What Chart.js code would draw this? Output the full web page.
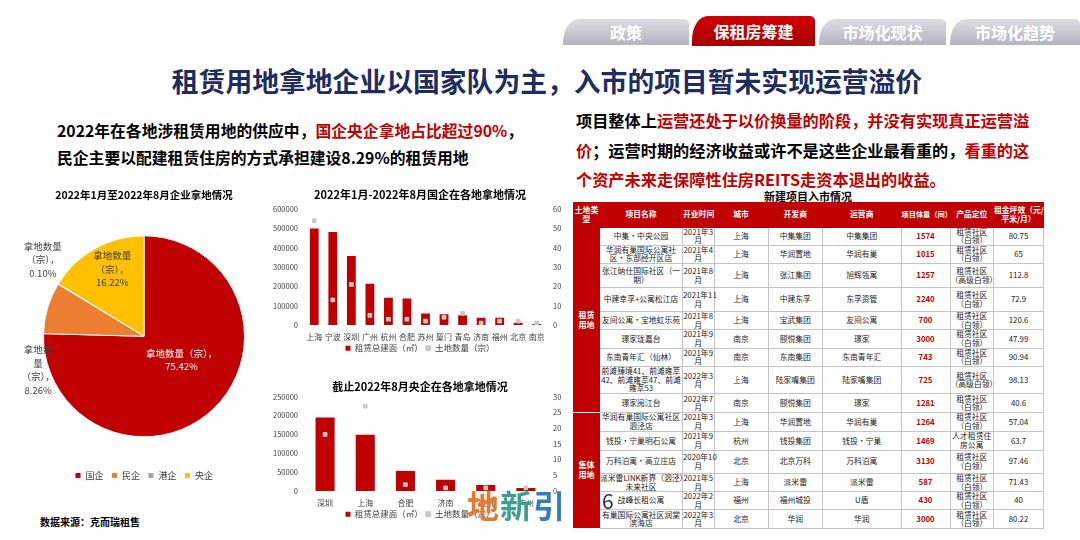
<!DOCTYPE html>
<html>
<head>
<meta charset="utf-8">
<script src="https://cdn.jsdelivr.net/npm/chart.js@4.4.0/dist/chart.umd.min.js"></script>
<style>
  body { margin: 0; width: 1080px; height: 540px; overflow: hidden; background: #fff; position: relative;
         font-family: "Noto Sans CJK SC", "Microsoft YaHei", sans-serif; }
  .abs { position: absolute; }
  .tab { position: absolute; top: 19px; height: 26px; color: #fff; font-weight: bold; font-size: 16px;
         line-height: 26px; text-align: center; border-radius: 16px 5px 0 0 / 24px 5px 0 0;
         background: linear-gradient(#dedfe4, #b3b4bc); }
  .tab.on { top: 16px; height: 30px; line-height: 30px; background: linear-gradient(#d10000, #a80000); }
  #title { left: 7px; width: 1080px; top: 61px; text-align: center; font-size: 26.8px; font-weight: bold; color: #1f2d5e; }
  .red { color: #c00000; }
  #leftText { left: 57px; top: 117px; font-size: 15.8px; font-weight: bold; line-height: 27px; color: #000; white-space: nowrap; }
  #rightText { left: 576px; top: 106px; width: 460px; font-size: 16.2px; font-weight: bold; line-height: 29.5px; color: #000; }
  #tblTitle { left: 573px; width: 470px; top: 188px; text-align: center; font-size: 11px; font-weight: bold; }
  table { position: absolute; left: 573px; top: 202px; width: 470px; border-collapse: collapse; table-layout: fixed;
          font-size: 7.8px; color: #222; }
  td, th { border: 1px solid #c4c4c4; text-align: center; padding: 0; line-height: 8.6px; white-space: pre; overflow: visible; }
  th { background: #c00000; color: #fff; font-weight: bold; font-size: 7.8px; border-color: #c00000; }
  td.land { background: #c00000; color: #fff; font-weight: bold; border-color: #c00000; border-bottom-color: #fff; font-size: 8px; line-height: 10px; }
  td.vol { color: #c00000; font-weight: bold; }
  .box { position: absolute; }
  #src { left: 40px; top: 514px; font-size: 10px; font-weight: bold; color: #000; }
  #logo { left: 467px; top: 481px; font-size: 32px; letter-spacing: 1px; font-weight: bold; }
  #page { left: 602px; top: 485px; font-size: 21px; color: #1f2d5e; }
</style>
</head>
<body>

<div class="tab" style="left:563px;width:126px">政策</div>
<div class="tab on" style="left:692px;width:123px">保租房筹建</div>
<div class="tab" style="left:819px;width:127px">市场化现状</div>
<div class="tab" style="left:950px;width:130px">市场化趋势</div>

<div id="title" class="abs">租赁用地拿地企业以国家队为主，入市的项目暂未实现运营溢价</div>

<div id="leftText" class="abs">2022年在各地涉租赁用地的供应中，<span class="red">国企央企拿地占比超过90%</span>，<br>民企主要以配建租赁住房的方式承担建设8.29%的租赁用地</div>

<div id="rightText" class="abs">项目整体上<span class="red">运营还处于以价换量的阶段，并没有实现真正运营溢价</span>；运营时期的经济收益或许不是这些企业最看重的，<span class="red">看重的这个资产未来走保障性住房REITS走资本退出的收益。</span></div>

<div class="box" style="left:0;top:185px;width:290px;height:305px"><canvas id="pie"></canvas></div>
<div class="box" style="left:270px;top:185px;width:300px;height:172px"><canvas id="soe"></canvas></div>
<div class="box" style="left:270px;top:375px;width:300px;height:148px"><canvas id="central"></canvas></div>

<div id="tblTitle" class="abs">新建项目入市情况</div>
<table id="tbl">
  <colgroup>
    <col style="width:26px"><col style="width:83px"><col style="width:31.5px"><col style="width:54px"><col style="width:54.5px">
    <col style="width:78.5px"><col style="width:49px"><col style="width:43.5px"><col style="width:50px">
  </colgroup>
  <thead></thead>
  <tbody></tbody>
</table>

<div id="src" class="abs">数据来源：克而瑞租售</div>
<div id="logo" class="abs"><span style="color:#e8782c">地</span><span style="color:#3c9f8f">新</span><span style="color:#2f7fbf">引</span></div>
<div id="page" class="abs">6</div>

<script>
// 饼图：企业拿地占比
const pieLabels = ['国企', '民企', '港企', '央企'];
const pieShares = [75.42, 8.26, 0.10, 16.22];
const pieColors = ['#c00000', '#ed7d31', '#a5a5a5', '#ffc000'];

// 国企在各地拿地
const soeCities = ['上海', '宁波', '深圳', '广州', '杭州', '合肥', '苏州', '厦门', '青岛', '济南', '福州', '北京', '南京'];
const soeArea = [500000, 482000, 357000, 214000, 141000, 137000, 59000, 56000, 50000, 37000, 37000, 12000, 5000];
const soeCount = [54, 13, 21, 5, 3, 3, 2, 4, 6, 1, 2, 2, 1];

// 央企在各地拿地
const cenCities = ['深圳', '上海', '合肥', '济南', '福州', '广州'];
const cenArea = [195000, 149000, 53000, 30000, 16000, 8000];
const cenCount = [18, 27, 2, 1, 1, 1];

// 坐标轴刻度：左轴最大值、步长，右轴最大值、步长
const soeTicks = [600000, 100000, 60, 10];
const cenTicks = [250000, 50000, 30, 5];

// 新建项目入市情况
const tableHead = ['土地类\n型', '项目名称', '开业时间', '城市', '开发商', '运营商', '项目体量（间）', '产品定位', '租金坪效（元/\n平米/月）'];
const landTypes = [['租赁\n用地', 9], ['集体\n用地', 6]];
const tableRows = [
  ['中集·中央公园', '2021年3\n月', '上海', '中集集团', '中集集团', '1574', '租赁社区\n（白领）', '80.75'],
  ['华润有巢国际公寓社\n区·东部经开区店', '2021年4\n月', '上海', '华润置地', '华润有巢', '1015', '租赁社区\n（白领）', '65'],
  ['张江纳仕国际社区（一\n期）', '2021年8\n月', '上海', '张江集团', '旭辉瓴寓', '1257', '租赁社区\n（高级白领）', '112.8'],
  ['中建幸孚+公寓松江店', '2021年11\n月', '上海', '中建东孚', '东孚资管', '2240', '租赁社区\n（白领）', '72.9'],
  ['友间公寓·宝地虹乐苑', '2021年8\n月', '上海', '宝武集团', '友间公寓', '700', '租赁社区\n（白领）', '120.6'],
  ['璟家珑嘉台', '2021年9\n月', '南京', '颐悦集团', '璟家', '3000', '租赁社区\n（白领）', '47.99'],
  ['东南青年汇（仙林）', '2021年9\n月', '南京', '东南集团', '东南青年汇', '743', '租赁社区\n（白领）', '90.94'],
  ['前滩臻境41、前滩雍萃\n42、前滩雍萃47、前滩\n雍萃53', '2022年3\n月', '上海', '陆家嘴集团', '陆家嘴集团', '725', '租赁社区\n（高级白领）', '98.13'],
  ['璟家阅江台', '2022年7\n月', '南京', '颐悦集团', '璟家', '1281', '租赁社区\n（白领）', '40.6'],
  ['华润有巢国际公寓社区\n泗泾店', '2021年3\n月', '上海', '华润置地', '华润有巢', '1264', '租赁社区\n（白领）', '57.04'],
  ['钱投·宁巢明石公寓', '2021年9\n月', '杭州', '钱投集团', '钱投·宁巢', '1469', '人才租赁住\n房公寓', '63.7'],
  ['万科泊寓·高立庄店', '2020年10\n月', '北京', '北京万科', '万科泊寓', '3130', '租赁社区\n（白领）', '97.46'],
  ['派米雷LINK新界（泗泾）\n未来社区', '2021年5\n月', '上海', '派米雷', '派米雷', '587', '租赁社区\n（白领）', '71.43'],
  ['战峰长租公寓', '2022年2\n月', '福州', '福州城投', 'U盾', '430', '租赁社区\n（白领）', '40'],
  ['有巢国际公寓社区润棠\n滨海店', '2022年3\n月', '北京', '华润', '华润', '3000', '租赁社区\n（白领）', '80.22']
];
const rowHeights = [17.6, 18.4, 24, 24, 17.6, 18.4, 18.3, 27.3, 18.7, 19.3, 18.4, 23.3, 18, 18.3, 18.4];

// 建表
const thead = document.querySelector('#tbl thead');
const headRow = document.createElement('tr');
headRow.style.height = '24.5px';
tableHead.forEach((h, i) => {
  const th = document.createElement('th');
  th.textContent = h;
  if (i === 6) th.style.fontSize = '7.2px';
  headRow.appendChild(th);
});
thead.appendChild(headRow);

const tbody = document.querySelector('#tbl tbody');
let groupStart = 0;
let groupIdx = 0;
tableRows.forEach((row, r) => {
  const tr = document.createElement('tr');
  tr.style.height = rowHeights[r] + 'px';
  if (groupIdx < landTypes.length && r === groupStart) {
    const td = document.createElement('td');
    td.className = 'land';
    td.rowSpan = landTypes[groupIdx][1];
    td.textContent = landTypes[groupIdx][0];
    tr.appendChild(td);
    groupStart += landTypes[groupIdx][1];
    groupIdx++;
  }
  row.forEach((v, c) => {
    const td = document.createElement('td');
    td.textContent = v;
    if (c === 5) td.className = 'vol';
    tr.appendChild(td);
  });
  tbody.appendChild(tr);
});

// 图表
Chart.defaults.font.family = '"Noto Sans CJK SC", "Microsoft YaHei", sans-serif';
Chart.defaults.color = '#404040';
Chart.defaults.animation = false;
Chart.defaults.plugins.tooltip.enabled = false;

const pieLabelPlugin = {
  id: 'pieLabels',
  afterDatasetsDraw(chart, args, opts) {
    const ctx = chart.ctx;
    const arcs = chart.getDatasetMeta(0).data;
    ctx.save();
    ctx.font = '9.5px "Noto Sans CJK SC"';
    ctx.textAlign = 'center';
    ctx.textBaseline = 'middle';
    arcs.forEach((arc, i) => {
      const p = opts.place[i];
      const mid = (arc.startAngle + arc.endAngle) / 2;
      const x = arc.x + Math.cos(mid) * arc.outerRadius * p.r + p.dx;
      const y = arc.y + Math.sin(mid) * arc.outerRadius * p.r + p.dy;
      const lines = p.lines.concat(pieShares[i].toFixed(2) + '%');
      ctx.fillStyle = p.color;
      lines.forEach((t, k) => ctx.fillText(t, x, y + (k - (lines.length - 1) / 2) * 13.5));
    });
    ctx.restore();
  }
};

new Chart(document.getElementById('pie'), {
  type: 'pie',
  data: {
    labels: pieLabels,
    datasets: [{ label: '拿地数量（宗）', data: pieShares, backgroundColor: pieColors, borderColor: '#fff', borderWidth: 1 }]
  },
  options: {
    responsive: true,
    maintainAspectRatio: false,
    layout: { padding: { left: 43, right: 45, top: 0, bottom: 0 } },
    plugins: {
      title: { display: true, text: '2022年1月至2022年8月企业拿地情况', color: '#000',
               font: { size: 10.5, weight: 'bold' }, padding: { top: 4, bottom: 8 } },
      legend: { position: 'bottom',
                labels: { usePointStyle: true, pointStyle: 'rect', boxWidth: 6, boxHeight: 6, padding: 8,
                          font: { size: 9 }, color: '#404040' } },
      pieLabels: {
        place: [
          { r: 0.45, dx: 6, dy: -9, color: '#fff', lines: ['拿地数量（宗），'] },
          { r: 1.15, dx: 5, dy: 66, color: '#404040', lines: ['拿地数', '量', '（宗），'] },
          { r: 1.25, dx: 6, dy: -11, color: '#404040', lines: ['拿地数量', '（宗），'] },
          { r: 0.73, dx: 4, dy: -3, color: '#404040', lines: ['拿地数量', '（宗），'] }
        ]
      }
    }
  },
  plugins: [pieLabelPlugin]
});

function comboChart(id, title, cats, area, count, ticks, titlePad) {
  return new Chart(document.getElementById(id), {
    data: {
      labels: cats,
      datasets: [
        { type: 'bar', label: '租赁总建面（㎡）', data: area, yAxisID: 'y', backgroundColor: '#c00000',
          categoryPercentage: 0.5, barPercentage: 0.95, order: 1 },
        { type: 'line', label: '土地数量（宗）', data: count, yAxisID: 'y2', showLine: false,
          pointStyle: 'rect', pointRadius: 2.6, backgroundColor: '#c8c8c8', borderColor: '#c8c8c8', order: 0 }
      ]
    },
    options: {
      responsive: true,
      maintainAspectRatio: false,
      plugins: {
        title: { display: true, text: title, color: '#000', font: { size: 11, weight: 'bold' }, padding: titlePad },
        legend: { position: 'bottom', maxHeight: 16,
                  labels: { usePointStyle: true, pointStyle: 'rect', boxWidth: 5, boxHeight: 5, padding: 3,
                            font: { size: 8.5 }, color: '#404040',
                            sort: (a, b) => a.datasetIndex - b.datasetIndex } }
      },
      scales: {
        x: { grid: { display: false, drawTicks: false }, border: { display: false },
             ticks: { font: { size: 8 }, color: '#404040', padding: 7, maxRotation: 0, autoSkip: false },
             afterFit(s) { s.height = 16; } },
        y: { position: 'left', min: 0, max: ticks[0], grid: { display: false, drawTicks: false }, border: { display: false },
             ticks: { stepSize: ticks[1], font: { size: 7.5 }, color: '#404040', padding: 7, callback: v => String(v) },
             afterFit(s) { s.width = 35; } },
        y2: { position: 'right', min: 0, max: ticks[2], grid: { display: false, drawTicks: false }, border: { display: false },
              ticks: { stepSize: ticks[3], font: { size: 7.5 }, color: '#404040', padding: 7, callback: v => String(v) },
              afterFit(s) { s.width = 24; } }
      }
    }
  });
}

comboChart('soe', '2022年1月-2022年8月国企在各地拿地情况', soeCities, soeArea, soeCount, soeTicks, { top: 3, bottom: 8 });
comboChart('central', '截止2022年8月央企在各地拿地情况', cenCities, cenArea, cenCount, cenTicks, { top: 5, bottom: 3.5 });
</script>
</body>
</html>
